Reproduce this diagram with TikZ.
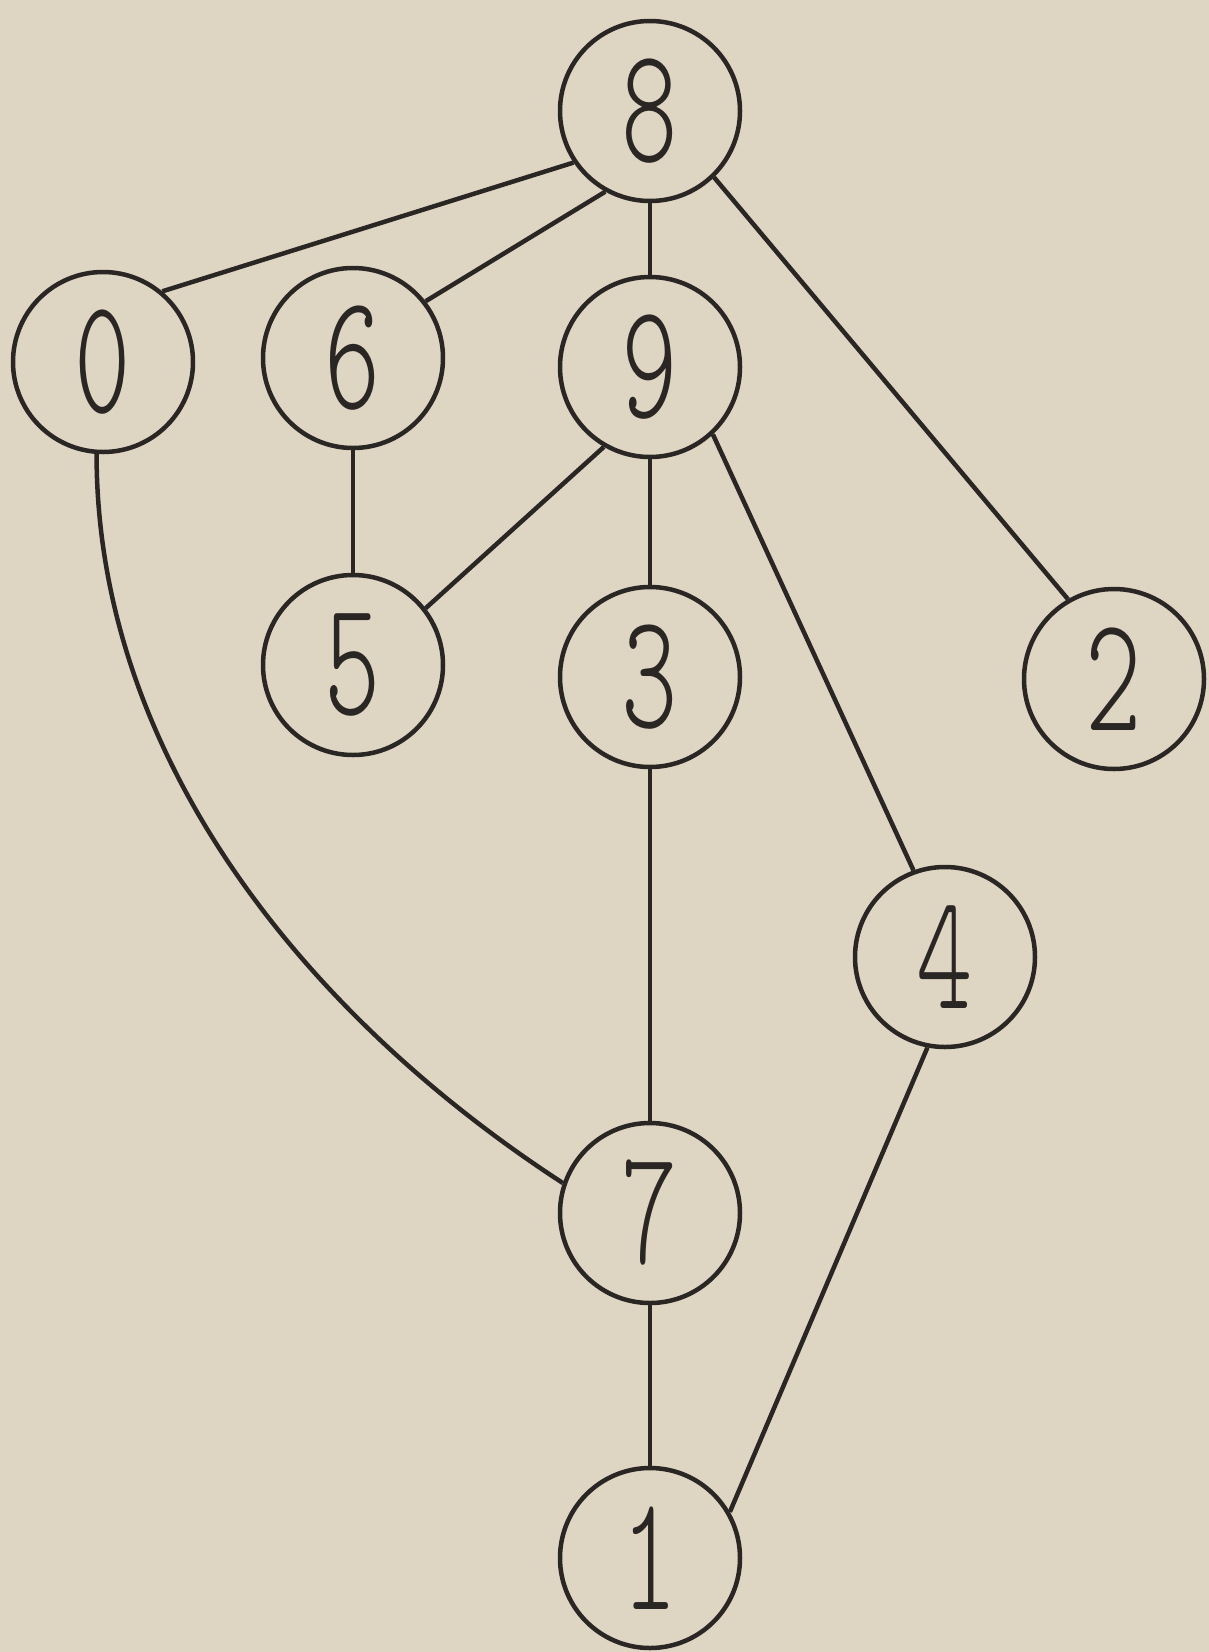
\documentclass[tikz,border=0pt]{standalone}
\usepackage{fontspec}
\newfontfamily\segfont[FakeStretch=0.65]{lmmonolt10-regular.otf}
\definecolor{paper}{RGB}{222,213,195}
\definecolor{ink}{RGB}{42,38,36}
\tikzset{
  vtx/.style={circle,draw=ink,line width=4.5pt,minimum size=180pt,inner sep=0pt,
    text=ink,font=\segfont\fontsize{165}{165}\selectfont},
  edge/.style={draw=ink,line width=4.5pt}
}
\begin{document}
\begin{tikzpicture}[x=1pt,y=-1pt]
  \fill[paper] (0,0) rectangle (1209,1652);
  \useasboundingbox (0,0) rectangle (1209,1652);

  \node[vtx] (n8) at (650,111) {8};
  \node[vtx] (n0) at (103,362) {0};
  \node[vtx] (n6) at (353,358) {6};
  \node[vtx] (n9) at (650,367) {9};
  \node[vtx] (n5) at (353,665) {5};
  \node[vtx] (n3) at (650,677) {3};
  \node[vtx] (n2) at (1114,679) {2};
  \node[vtx] (n4) at (945,957) {4};
  \node[vtx] (n7) at (650,1213) {7};
  \node[vtx] (n1) at (650,1558) {1};

  \draw[edge] (n8.214) -- (n0.50);
  \draw[edge] (n8.241) -- (n6.38);
  \draw[edge] (n8.south) -- (n9.north);
  \draw[edge] (n8.314) -- (n2.120);
  \draw[edge] (n6.south) -- (n5.north);
  \draw[edge] (n9.240) -- (n5.38);
  \draw[edge] (n9.south) -- (n3.north);
  \draw[edge] (n9.313) -- (n4.110);
  \draw[edge] (n3.south) -- (n7.north);
  \draw[edge] (n0.266) to[out=-90,in=147,looseness=0.9] (n7.161);
  \draw[edge] (n7.south) -- (n1.north);
  \draw[edge] (n4.259) -- (n1.30);
\end{tikzpicture}
\end{document}
